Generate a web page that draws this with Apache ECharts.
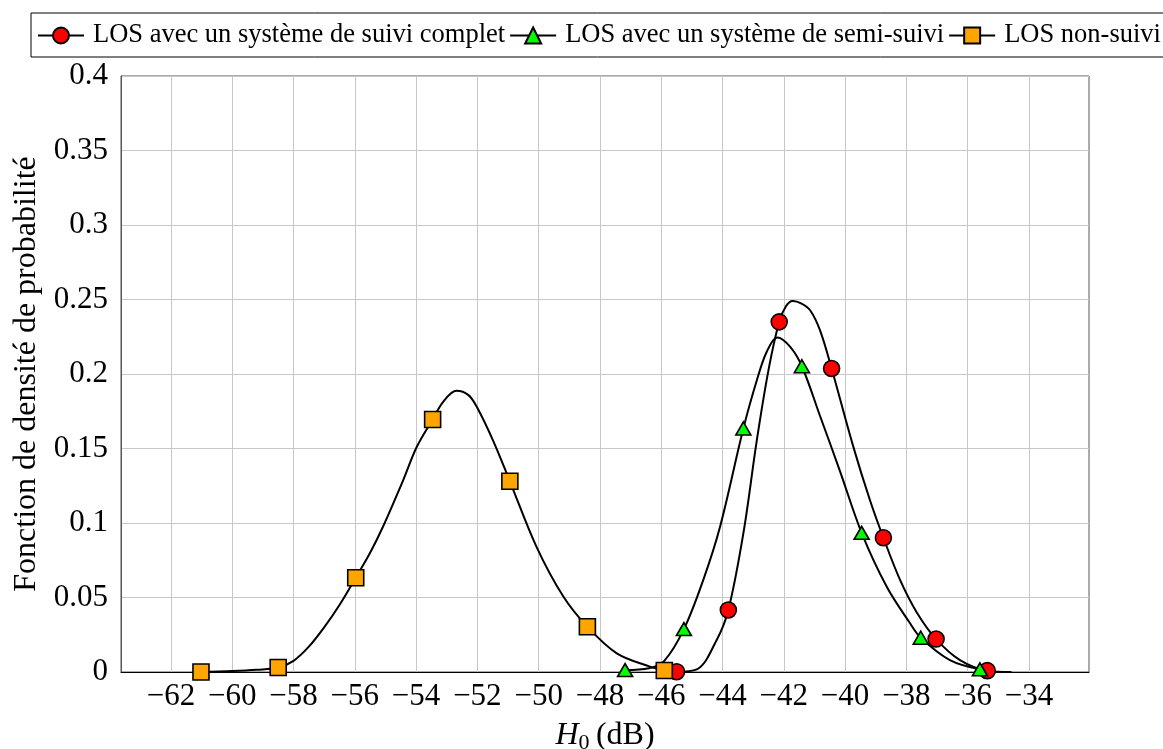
<!DOCTYPE html>
<html>
<head>
<meta charset="utf-8">
<script src="https://cdn.jsdelivr.net/npm/echarts@6/dist/echarts.min.js"></script>
<style>
html,body{margin:0;padding:0;background:#fff;}
#chart{width:1163px;height:749px;}
</style>
</head>
<body>
<div id="chart"></div>
<script>
// ---- data ----
const seriesNames = ['LOS avec un système de suivi complet', 'LOS avec un système de semi-suivi', 'LOS non-suivi'];

const xSuivi = [-45.50, -44.84, -44.19, -43.81, -43.32, -42.88, -42.50, -42.15, -41.93, -41.71, -41.42, -41.14, -40.82, -40.44, -39.73, -39.19, -38.75, -38.21, -37.66, -37.03, -36.25, -35.36, -34.57];
const ySuivi = [0.0002, 0.0018, 0.0215, 0.0416, 0.093, 0.1556, 0.2026, 0.235, 0.2455, 0.249, 0.2473, 0.2428, 0.2294, 0.2037, 0.1511, 0.1154, 0.0901, 0.062, 0.040, 0.0221, 0.008, 0.0009, 0.0];
const markSuivi = [0, 3, 7, 13, 16, 19, 21];

const xSemi = [-47.18, -46.4, -45.9, -45.26, -44.63, -44.08, -43.32, -42.88, -42.56, -42.21, -41.79, -41.41, -40.82, -40.17, -39.46, -38.64, -37.88, -37.53, -36.58, -35.60];
const ySemi = [0.0013, 0.0025, 0.0075, 0.0288, 0.0617, 0.0975, 0.1634, 0.1958, 0.2148, 0.2245, 0.2182, 0.2052, 0.172, 0.135, 0.0934, 0.0572, 0.0327, 0.023, 0.008, 0.0018];
const markSemi = [0, 3, 6, 11, 14, 17, 19];

const xNon = [-61.02, -60.0, -59.2, -58.50, -58.0, -57.5, -57.0, -56.5, -55.97, -55.5, -55.07, -54.42, -53.98, -53.46, -53.11, -52.68, -52.3, -52.02, -51.48, -50.94, -50.07, -49.19, -48.41, -47.45, -46.37, -45.90];
const yNon = [0.0, 0.0006, 0.0015, 0.003, 0.0075, 0.017, 0.030, 0.045, 0.0633, 0.080, 0.098, 0.1288, 0.151, 0.1695, 0.1815, 0.1887, 0.186, 0.178, 0.155, 0.128, 0.084, 0.0505, 0.0304, 0.0125, 0.0036, 0.001];
const markNon = [0, 3, 8, 13, 19, 22, 25];

const xTicks = [-62, -60, -58, -56, -54, -52, -50, -48, -46, -44, -42, -40, -38, -36, -34];

// ---- build ----
const FONT = 'Liberation Serif';
function buildData(xs, ys, marks) {
  return xs.map((x, i) => marks.includes(i) ? { value: [x, ys[i]] } : { value: [x, ys[i]], symbol: 'none' });
}
function mkSeries(name, xs, ys, marks, symbol, size, color) {
  return {
    name: name,
    type: 'line',
    data: buildData(xs, ys, marks),
    smooth: 0.35,
    symbol: symbol,
    symbolSize: size,
    showAllSymbol: true,
    lineStyle: { color: '#000', width: 2 },
    itemStyle: { color: color, borderColor: '#000', borderWidth: 1.6, opacity: 1 },
    emphasis: { disabled: true },
    animation: false
  };
}

const chart = echarts.init(document.getElementById('chart'), null, { renderer: 'canvas' });
chart.setOption({
  backgroundColor: '#fff',
  animation: false,
  textStyle: { fontFamily: FONT },
  grid: { left: 121, right: 74, top: 76, bottom: 77, outerBoundsMode: 'none', containLabel: false,
    show: true, borderColor: '#555', borderWidth: 1, backgroundColor: 'transparent' },
  legend: {
    left: 31, top: 13, width: 1400,
    orient: 'horizontal',
    padding: [9, 8, 8, 6],
    borderColor: '#000', borderWidth: 1,
    itemWidth: 46, itemHeight: 20, itemGap: 4,
    textStyle: { fontFamily: FONT, fontSize: 26.5, color: '#000', padding: [0, 0, 0, 4] },
    data: seriesNames
  },
  xAxis: {
    type: 'value', min: -63.63, max: -32.04,
    axisLine: { show: true, onZero: false, lineStyle: { color: '#000', width: 1 } },
    axisTick: { show: false, customValues: xTicks },
    axisLabel: { customValues: xTicks, fontFamily: FONT, fontSize: 31, color: '#000', margin: 9,
      formatter: v => (v < 0 ? '\u2212' : '') + Math.abs(v) },
    splitLine: { show: true, lineStyle: { color: '#c8c8c8', width: 1 } },
    name: '{i|H}{s|0}{n|\u2009(dB)}',
    nameLocation: 'middle', nameGap: 46,
    nameTextStyle: {
      rich: {
        i: { fontFamily: FONT, fontStyle: 'italic', fontSize: 32, color: '#000' },
        s: { fontFamily: FONT, fontSize: 22, color: '#000', padding: [14, 0, 0, 0] },
        n: { fontFamily: FONT, fontSize: 32, color: '#000' }
      }
    }
  },
  yAxis: {
    type: 'value', min: 0, max: 0.4, interval: 0.05,
    axisLine: { show: true, lineStyle: { color: '#555', width: 1 } },
    axisTick: { show: false },
    axisLabel: { fontFamily: FONT, fontSize: 31, color: '#000', margin: 13,
      formatter: v => String(+v.toFixed(2)) },
    splitLine: { show: true, lineStyle: { color: '#c8c8c8', width: 1 } },
    name: 'Fonction de densité de probabilité',
    nameLocation: 'middle', nameGap: 77, nameRotate: 90,
    nameTextStyle: { fontFamily: FONT, fontSize: 32, color: '#000' }
  },
  series: [
    mkSeries(seriesNames[0], xSuivi, ySuivi, markSuivi, 'circle', 16, '#ff0000'),
    mkSeries(seriesNames[1], xSemi, ySemi, markSemi, 'triangle', [15, 13], '#00ff00'),
    mkSeries(seriesNames[2], xNon, yNon, markNon, 'rect', 16, '#ffa500')
  ]
});
</script>
</body>
</html>
